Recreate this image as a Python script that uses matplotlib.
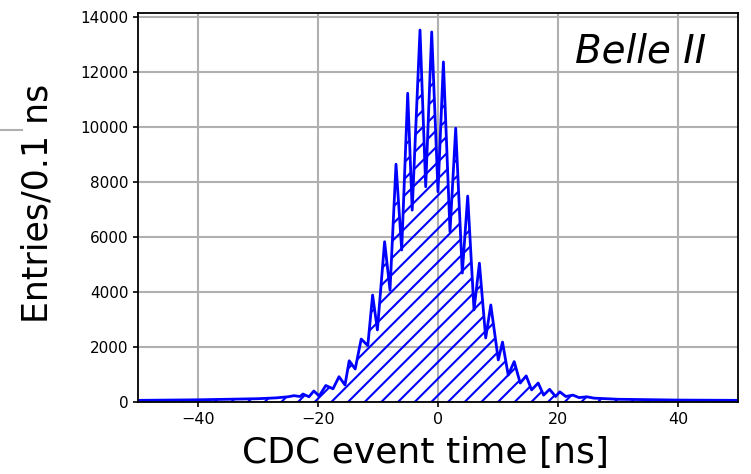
import matplotlib
matplotlib.use("Agg")
from matplotlib import pyplot as plt
from matplotlib.lines import Line2D

# peak / valley positions of the histogram outline
t_ns = [-50, -45, -40, -35, -30, -27, -25, -24, -23, -22.5, -21.5, -20.7, -19.8,
        -18.7, -17.5, -16.5, -15.5, -14.8, -13.8, -12.8, -11.7, -10.9, -10.1,
        -8.9, -8.0, -7.0, -6.05, -5.05, -4.3, -3.0, -2.05, -1.05, 0.0, 0.9,
        2.0, 2.95, 4.05, 4.95, 6.0, 6.9, 7.95, 8.8, 10.05, 10.75, 11.7, 12.7,
        13.7, 14.7, 15.6, 16.7, 17.6, 18.6, 19.6, 20.3, 21.3, 22.5, 23.5, 24.8,
        26, 28, 30, 35, 40, 45, 50]
counts = [60, 70, 80, 100, 120, 150, 190, 230, 200, 290, 190, 400, 220,
          600, 480, 920, 620, 1500, 1200, 2290, 2050, 3890, 2620,
          5830, 4070, 8650, 5530, 11230, 6980, 13530, 7830, 13460, 7650, 12370,
          6190, 9960, 4690, 7490, 3350, 5050, 2330, 3530, 1530, 2180, 980, 1470,
          690, 950, 440, 690, 250, 460, 200, 370, 200, 250, 160, 190,
          140, 120, 100, 85, 70, 65, 60]

xticks = [-40, -20, 0, 20, 40]
yticks = [0, 2000, 4000, 6000, 8000, 10000, 12000, 14000]

plt.rcParams['hatch.linewidth'] = 1.5

fig = plt.figure(figsize=(7.51, 4.74), dpi=100)
ax = fig.add_axes([138/751, 1 - 402/474, 600/751, 389/474])

ax.fill_between(t_ns, counts, facecolor='none', edgecolor='blue',
                hatch='//', linewidth=0)
ax.plot(t_ns, counts, color='blue', linewidth=2)

ax.set_xlim(-50, 50)
ax.set_ylim(0, 14150)
ax.set_xticks(xticks)
ax.set_yticks(yticks)
ax.tick_params(axis='y', labelsize=11, width=1.2)
ax.tick_params(axis='x', labelsize=11.5, width=1.2)
ax.grid(True, color='#b0b0b0', linewidth=1.5)
ax.set_axisbelow(True)
for s in ax.spines.values():
    s.set_linewidth(1.3)

ax.set_xlabel('CDC event time [ns]', fontsize=26)
ax.xaxis.set_label_coords(0.48, -0.088)
ax.set_ylabel('Entries/0.1 ns', fontsize=25)
ax.yaxis.set_label_coords(-0.14, 0.51)

ax.text(0.728, 0.90, 'Belle II', transform=ax.transAxes, fontsize=28,
        style='italic', ha='left', va='center')

# small stray grey tick left of the y label
fig.add_artist(Line2D([0, 22/751], [1 - 130/474, 1 - 130/474],
                      color='#b0b0b0', linewidth=1.5))

fig.savefig('out.png', dpi=100)
